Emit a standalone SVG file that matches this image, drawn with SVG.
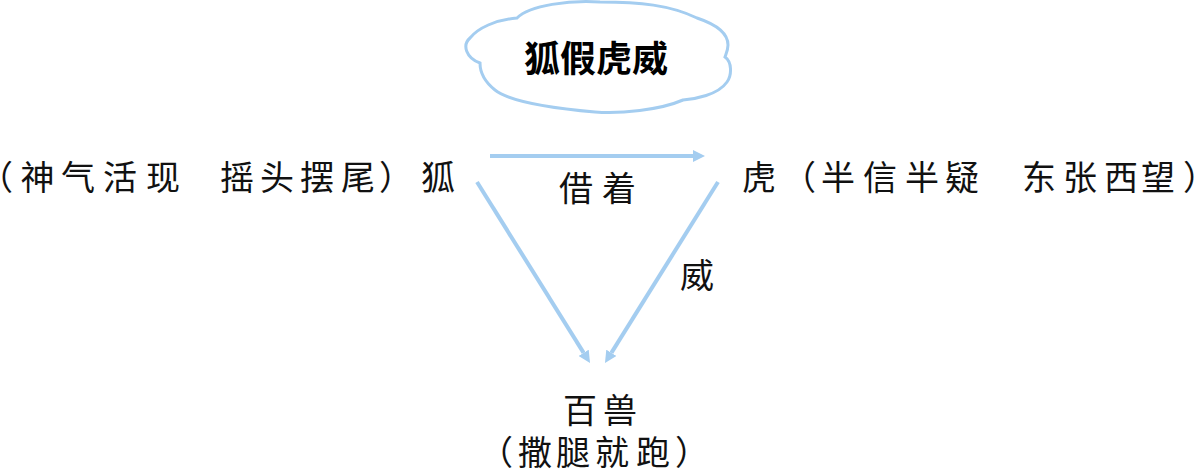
<svg xmlns="http://www.w3.org/2000/svg" width="1200" height="470" viewBox="0 0 1200 470">
<style>
.t{font-family:"Noto Sans CJK SC","Noto Sans CJK JP",sans-serif;font-size:34px;fill:#111;text-anchor:middle}
.title{font-family:"Noto Sans CJK SC",sans-serif;font-size:36px;font-weight:bold;fill:#000;text-anchor:middle}
.conn{stroke:#a4cdf0;stroke-width:4;fill:none;marker-end:url(#ah)}
.cloud{fill:#fff;stroke:#a4cdf0;stroke-width:3}
</style>
<defs>
<marker id="ah" markerUnits="userSpaceOnUse" markerWidth="12" markerHeight="12" refX="0" refY="6" orient="auto" viewBox="0 0 12 12">
<path d="M0,0 L12,6 L0,12 z" fill="#a4cdf0"/>
</marker>
</defs>
<rect width="1200" height="470" fill="#fff"/>
<g id="title">
<path class="cloud" d="M480,63 C466,58 462,45 470,38 C478,28 495,20 517,18 C530,5 570,0 600,2 C640,2 670,5 697,18 C715,24 728,32 728,45 C728,50 726,54 725,57 C732,62 732,75 727,82 C718,95 695,99 683,100 C660,110 620,114 595,112 C550,108 510,102 495,90 C485,82 480,72 480,63 Z"/>
<text class="title" x="596" y="72">狐假虎威</text>
</g>
<g id="fox">
<text class="t" x="-4 37.5 78 120 163 237 277 317 358 396 438" y="189.5">（神气活现摇头摆尾）狐</text>
</g>
<g id="tiger">
<text class="t" x="759 799 838 880 922 962 1039 1080 1121 1158 1200" y="189.5">虎（半信半疑东张西望）</text>
</g>
<g id="beasts">
<text class="t" x="580 620" y="423">百兽</text>
<text class="t" x="496 535 573 612 653 692" y="465">（撒腿就跑）</text>
</g>
<g id="connectors">
<line class="conn" x1="490" y1="156" x2="693" y2="156"/>
<line class="conn" x1="477" y1="182" x2="583.65" y2="352.82"/>
<line class="conn" x1="718" y1="182" x2="611.35" y2="352.82"/>
<text class="t" x="576 619" y="201">借着</text>
<text class="t" x="697" y="288">威</text>
</g>
</svg>
